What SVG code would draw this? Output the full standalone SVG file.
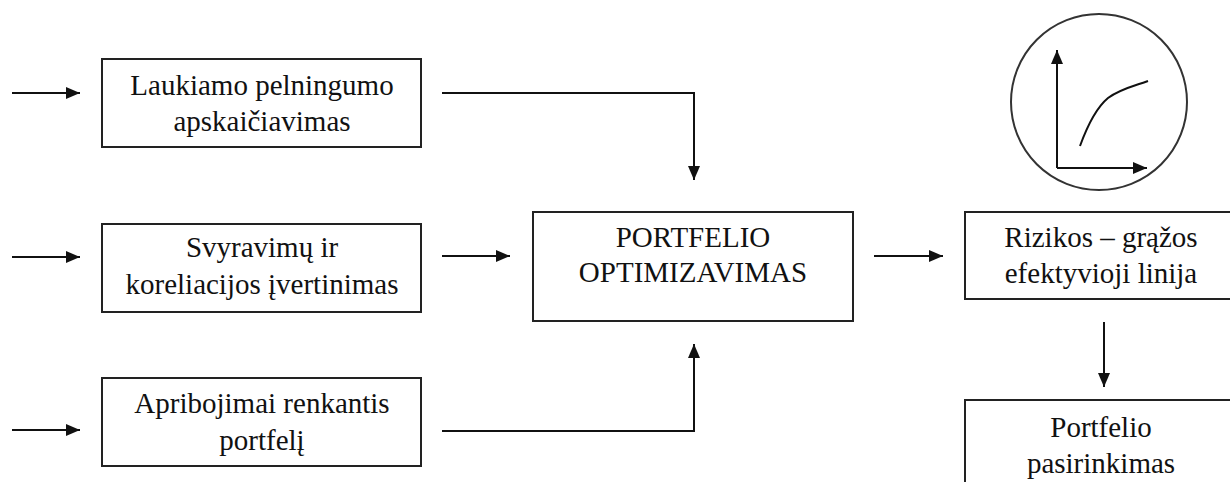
<svg xmlns="http://www.w3.org/2000/svg" width="1230" height="482" viewBox="0 0 1230 482">
<defs>
<style>
.box{fill:#fff;stroke:#222;stroke-width:2}
.c{fill:none;stroke:#111;stroke-width:2}
</style>
<marker id="ah" viewBox="0 0 14 12" refX="14" refY="6" markerWidth="14" markerHeight="12" markerUnits="userSpaceOnUse" orient="auto">
<path d="M0,0 L14,6 L0,12 Z" fill="#111"/>
</marker>
</defs>
<rect width="1230" height="482" fill="#fff"/>
<g font-family="Liberation Serif, Times New Roman, serif" font-size="29" fill="#111" text-anchor="middle">
<g id="n1"><rect class="box" x="102" y="59" width="319" height="88"/>
<text x="262" y="95">Laukiamo pelningumo</text><text x="262" y="131">apskaičiavimas</text></g>
<g id="n2"><rect class="box" x="102" y="224" width="319" height="88"/>
<text x="262" y="257">Svyravimų ir</text><text x="262" y="294">koreliacijos įvertinimas</text></g>
<g id="n3"><rect class="box" x="102" y="378" width="319" height="88"/>
<text x="262" y="413">Apribojimai renkantis</text><text x="262" y="450">portfelį</text></g>
<g id="n4"><rect class="box" x="533" y="212" width="320" height="109"/>
<text x="693" y="247">PORTFELIO</text><text x="693" y="282">OPTIMIZAVIMAS</text></g>
<g id="n5"><rect class="box" x="965" y="212" width="272" height="87"/>
<text x="1101" y="247">Rizikos – grąžos</text><text x="1101" y="283">efektyvioji linija</text></g>
<g id="n6"><rect class="box" x="965" y="400" width="272" height="100"/>
<text x="1101" y="437">Portfelio</text><text x="1101" y="473">pasirinkimas</text></g>
</g>
<g id="chart">
<circle cx="1099" cy="102" r="88" fill="none" stroke="#333" stroke-width="2"/>
<path class="c" d="M1057,168 L1057,50" marker-end="url(#ah)"/>
<path class="c" d="M1057,168 L1147,168" marker-end="url(#ah)"/>
<path class="c" d="M1080,146 C1088,124 1096,108 1108,98 C1120,89 1134,86 1148,81"/>
</g>
<g id="connectors">
<path class="c" d="M12,93 L80,93" marker-end="url(#ah)"/>
<path class="c" d="M12,257 L80,257" marker-end="url(#ah)"/>
<path class="c" d="M12,430 L80,430" marker-end="url(#ah)"/>
<path class="c" d="M442,93 L694,93 L694,180" marker-end="url(#ah)"/>
<path class="c" d="M442,256 L510,256" marker-end="url(#ah)"/>
<path class="c" d="M442,431 L694,431 L694,344" marker-end="url(#ah)"/>
<path class="c" d="M874,256 L943,256" marker-end="url(#ah)"/>
<path class="c" d="M1104,322 L1104,387" marker-end="url(#ah)"/>
</g>
</svg>
